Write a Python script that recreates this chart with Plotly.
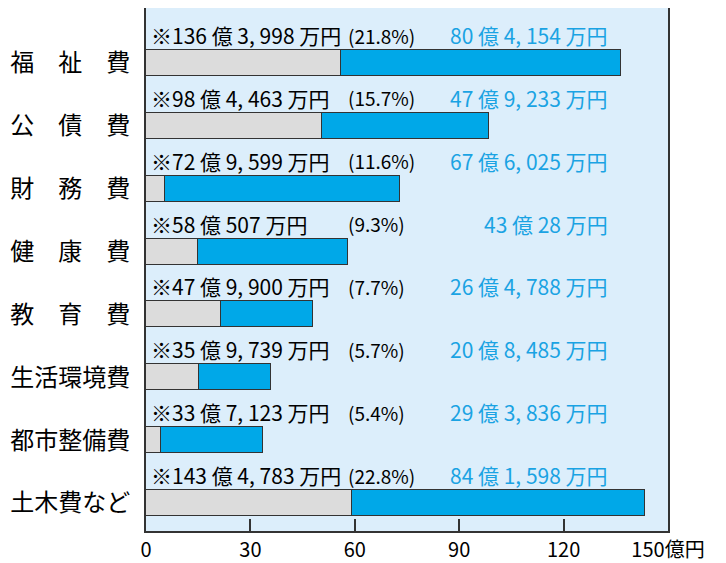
import plotly.graph_objects as go

categories = ["福　祉　費", "公　債　費", "財　務　費", "健　康　費", "教　育　費", "生活環境費", "都市整備費", "土木費など"]
# values in 万円
total_man = [1363998, 984463, 729599, 580507, 479900, 359739, 337123, 1434783]
blue_man = [804154, 479233, 676025, 430028, 264788, 208485, 293836, 841598]
percent = ["(21.8%)", "(15.7%)", "(11.6%)", "(9.3%)", "(7.7%)", "(5.7%)", "(5.4%)", "(22.8%)"]
x_ticks = [0, 30, 60, 90, 120, 150]
x_ticktext = ["0", "30", "60", "90", "120", "150億円"]

gray_oku = [(t - b) / 10000 for t, b in zip(total_man, blue_man)]
blue_oku = [b / 10000 for b in blue_man]
ypos = list(range(len(categories)))

def fmt(v):
    oku, man = divmod(v, 10000)
    return f"{oku} 億 " + f"{man:,}".replace(",", ", ") + " 万円"

FONT = "Noto Sans CJK JP, sans-serif"
BLUE = "#00a8e8"
TXTBLUE = "#1aa3e3"

fig = go.Figure()
fig.add_trace(go.Bar(
    y=ypos, x=gray_oku, orientation="h", width=0.414,
    marker=dict(color="#dcdcdc", line=dict(color="#333333", width=1.5)),
    hoverinfo="skip", showlegend=False))
fig.add_trace(go.Bar(
    y=ypos, x=blue_oku, orientation="h", width=0.414,
    marker=dict(color=BLUE, line=dict(color="#333333", width=1.5)),
    hoverinfo="skip", showlegend=False))

anns = []
for i in ypos:
    anns.append(dict(x=0, y=i, xref="x", yref="y", text="※" + fmt(total_man[i]),
                     xanchor="left", yanchor="middle", xshift=3, yshift=28, showarrow=False,
                     font=dict(family=FONT, size=21, color="black")))
    anns.append(dict(x=57.5, y=i, xref="x", yref="y", text=percent[i],
                     xanchor="left", yanchor="middle", yshift=28, showarrow=False,
                     font=dict(family=FONT, size=19, color="black")))
    anns.append(dict(x=150, y=i, xref="x", yref="y", text=fmt(blue_man[i]),
                     xanchor="right", yanchor="middle", xshift=-58, yshift=28, showarrow=False,
                     font=dict(family=FONT, size=21, color=TXTBLUE)))

fig.update_layout(
    barmode="stack",
    width=718, height=555,
    margin=dict(l=138, r=58, t=0, b=32, autoexpand=False),
    paper_bgcolor="white",
    plot_bgcolor="#dceefb",
    bargap=0,
    annotations=anns,
    xaxis=dict(range=[0, 150], tickvals=x_ticks, ticktext=x_ticktext,
               ticks="inside", ticklen=12, tickwidth=1.5, tickcolor="#333333",
               showgrid=False, zeroline=False, showline=True, mirror=True,
               linecolor="#333333", linewidth=2, automargin=False,
               tickfont=dict(family=FONT, size=20, color="black")),
    yaxis=dict(range=[7.445, -0.875], tickvals=ypos, ticktext=categories,
               ticks="", showgrid=False, zeroline=False, showline=True, mirror=True,
               linecolor="#333333", linewidth=2, ticklabelstandoff=9, automargin=False,
               tickfont=dict(family="Noto Sans CJK JP", size=24, color="black")),
)

fig.write_html("out.html")
